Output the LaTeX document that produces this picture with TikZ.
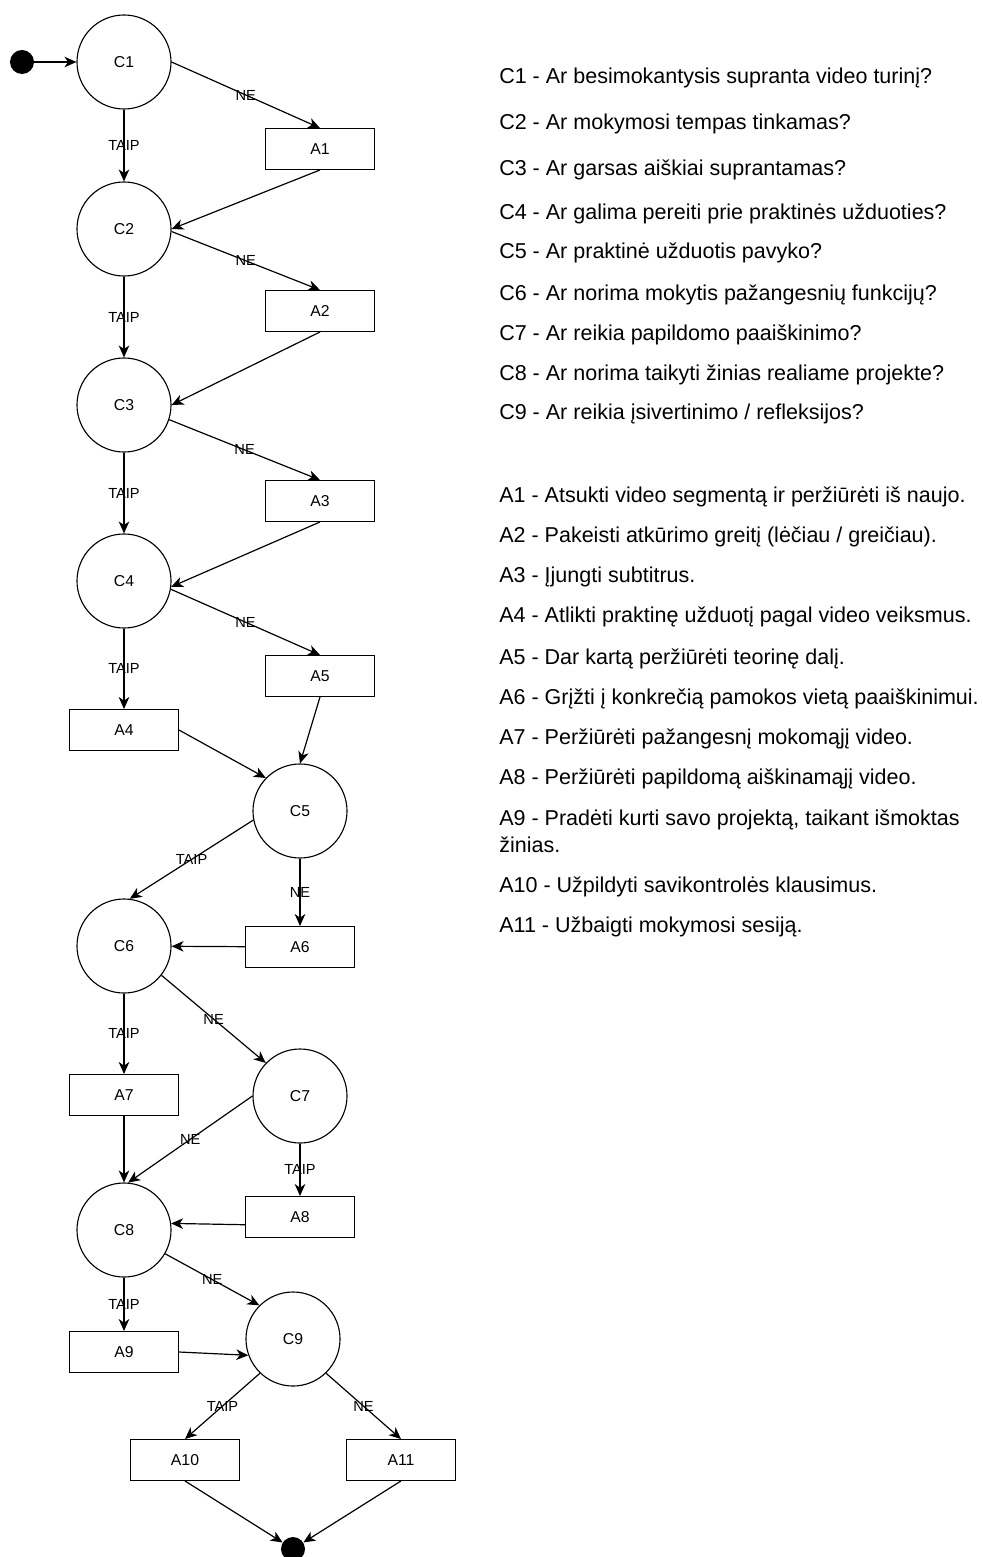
\documentclass[tikz,border=0pt]{standalone}
\usepackage{fontspec}
\setmainfont{Liberation Sans}
\usetikzlibrary{arrows.meta}

\tikzset{
    salyga/.style={circle, draw, line width=0.8pt, minimum size=2.35cm, inner sep=0pt, font=\fontsize{11.2}{13}\selectfont},
    veiksmas/.style={rectangle, draw, line width=0.8pt, minimum width=2.72cm, minimum height=1.02cm, inner sep=0pt, font=\fontsize{11.2}{13}\selectfont},
    taskas/.style={circle, fill=black, minimum size=0.6cm, inner sep=0pt},
    rodykle/.style={-{Stealth[length=8.5pt, width=7.5pt, inset=2.5pt]}, line width=0.85pt},
    zyme/.style={font=\fontsize{10.4}{12}\selectfont, inner sep=0pt},
    legenda/.style={anchor=base west, inner sep=0pt, align=left, font=\fontsize{15.3}{19.2}\selectfont}
}

\begin{document}
\begin{tikzpicture}[x=0.025cm, y=-0.025cm]
    \useasboundingbox (0, 0) rectangle (983, 1557);

    % Pradžia ir pabaiga
    \node[taskas] (pradzia) at (22, 62) {};
    \node[taskas] (pabaiga) at (293, 1549) {};

    % Sąlygos
    \node[salyga] (C1) at (124, 62) {C1};
    \node[salyga] (C2) at (124, 229) {C2};
    \node[salyga] (C3) at (124, 405) {C3};
    \node[salyga] (C4) at (124, 581) {C4};
    \node[salyga] (C5) at (300, 811) {C5};
    \node[salyga] (C6) at (124, 946) {C6};
    \node[salyga] (C7) at (300, 1096) {C7};
    \node[salyga] (C8) at (124, 1230) {C8};
    \node[salyga] (C9) at (293, 1339) {C9};

    % Veiksmai
    \node[veiksmas] (A1) at (320, 149) {A1};
    \node[veiksmas] (A2) at (320, 311) {A2};
    \node[veiksmas] (A3) at (320, 501) {A3};
    \node[veiksmas] (A5) at (320, 676) {A5};
    \node[veiksmas] (A4) at (124, 730) {A4};
    \node[veiksmas] (A6) at (300, 947) {A6};
    \node[veiksmas] (A7) at (124, 1095) {A7};
    \node[veiksmas] (A8) at (300, 1217) {A8};
    \node[veiksmas] (A9) at (124, 1352) {A9};
    \node[veiksmas] (A10) at (185, 1460) {A10};
    \node[veiksmas] (A11) at (401, 1460) {A11};

    % Rodyklės
    \draw[rodykle] (pradzia) -- (C1);
    \draw[rodykle] (C1.east) -- (A1.north) node[midway, zyme] {NE};
    \draw[rodykle] (C1) -- (C2) node[midway, zyme] {TAIP};
    \draw[rodykle] (A1.south) -- (C2.east);
    \draw[rodykle] (C2.-3) -- (A2.north) node[midway, zyme] {NE};
    \draw[rodykle] (C2) -- (C3) node[midway, zyme] {TAIP};
    \draw[rodykle] (A2.south) -- (C3.east);
    \draw[rodykle] (C3.-18) -- (A3.north) node[midway, zyme] {NE};
    \draw[rodykle] (C3) -- (C4) node[midway, zyme] {TAIP};
    \draw[rodykle] (A3.south) -- (C4.-7);
    \draw[rodykle] (C4.-10) -- (A5.north) node[midway, zyme] {NE};
    \draw[rodykle] (C4) -- (A4) node[midway, zyme] {TAIP};
    \draw[rodykle] (A4.east) -- (C5.136);
    \draw[rodykle] (A5.south) -- (C5.north);
    \draw[rodykle] (C5.191) -- (C6.83) node[midway, zyme] {TAIP};
    \draw[rodykle] (C5) -- (A6) node[midway, zyme] {NE};
    \draw[rodykle] (A6) -- (C6);
    \draw[rodykle] (C6) -- (A7) node[midway, zyme] {TAIP};
    \draw[rodykle] (C6.-38) -- (C7.136) node[midway, zyme] {NE};
    \draw[rodykle] (C7.west) -- (C8.85) node[midway, zyme] {NE};
    \draw[rodykle] (A7) -- (C8);
    \draw[rodykle] (C7) -- (A8) node[midway, zyme] {TAIP};
    \draw[rodykle] (A8.188) -- (C8.8);
    \draw[rodykle] (C8.-30) -- (C9.135) node[midway, zyme] {NE};
    \draw[rodykle] (C8) -- (A9) node[midway, zyme] {TAIP};
    \draw[rodykle] (A9.east) -- (C9.200);
    \draw[rodykle] (C9.226) -- (A10.north) node[midway, zyme] {TAIP};
    \draw[rodykle] (C9.-46) -- (A11.north) node[midway, zyme] {NE};
    \draw[rodykle] (A10.south) -- (pabaiga);
    \draw[rodykle] (A11.south) -- (pabaiga);

    % Legenda
    \node[legenda] (lC1) at (499, 84) {C1 - Ar besimokantysis supranta video turinį?};
    \node[legenda] (lC2) at (499, 130) {C2 - Ar mokymosi tempas tinkamas?};
    \node[legenda] (lC3) at (499, 176) {C3 - Ar garsas aiškiai suprantamas?};
    \node[legenda] (lC4) at (499, 219) {C4 - Ar galima pereiti prie praktinės užduoties?};
    \node[legenda] (lC5) at (499, 258) {C5 - Ar praktinė užduotis pavyko?};
    \node[legenda] (lC6) at (499, 300) {C6 - Ar norima mokytis pažangesnių funkcijų?};
    \node[legenda] (lC7) at (499, 340) {C7 - Ar reikia papildomo paaiškinimo?};
    \node[legenda] (lC8) at (499, 380) {C8 - Ar norima taikyti žinias realiame projekte?};
    \node[legenda] (lC9) at (499, 419) {C9 - Ar reikia įsivertinimo / refleksijos?};

    \node[legenda] (lA1) at (499, 502) {A1 - Atsukti video segmentą ir peržiūrėti iš naujo.};
    \node[legenda] (lA2) at (499, 542) {A2 - Pakeisti atkūrimo greitį (lėčiau / greičiau).};
    \node[legenda] (lA3) at (499, 582) {A3 - Įjungti subtitrus.};
    \node[legenda] (lA4) at (499, 622) {A4 - Atlikti praktinę užduotį pagal video veiksmus.};
    \node[legenda] (lA5) at (499, 664) {A5 - Dar kartą peržiūrėti teorinę dalį.};
    \node[legenda] (lA6) at (499, 704) {A6 - Grįžti į konkrečią pamokos vietą paaiškinimui.};
    \node[legenda] (lA7) at (499, 744) {A7 - Peržiūrėti pažangesnį mokomąjį video.};
    \node[legenda] (lA8) at (499, 784) {A8 - Peržiūrėti papildomą aiškinamąjį video.};
    \node[legenda] (lA9) at (499, 852) {A9 - Pradėti kurti savo projektą, taikant išmoktas\\žinias.};
    \node[legenda] (lA10) at (499, 892) {A10 - Užpildyti savikontrolės klausimus.};
    \node[legenda] (lA11) at (499, 932) {A11 - Užbaigti mokymosi sesiją.};

\end{tikzpicture}
\end{document}
